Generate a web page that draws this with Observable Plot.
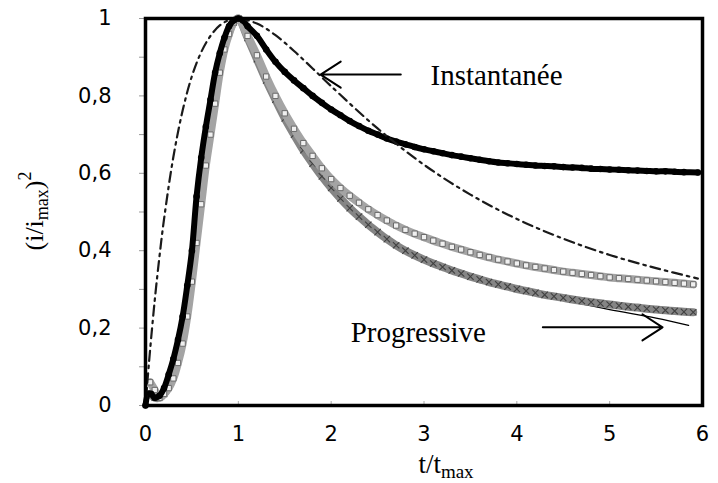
<!DOCTYPE html>
<html><head><meta charset="utf-8">
<script src="https://cdn.jsdelivr.net/npm/d3@7"></script>
<script src="https://cdn.jsdelivr.net/npm/@observablehq/plot@0.6"></script>
<style>body{margin:0;background:#fff} svg{display:block}</style>
</head><body><div id="chart"></div>
<script>
// Axis ticks
const xTicks = [0, 1, 2, 3, 4, 5, 6];
const yLabelTicks = [0, 0.2, 0.4, 0.6, 0.8, 1];
const yMinorTicks = [0, 0.1, 0.2, 0.3, 0.4, 0.5, 0.6, 0.7, 0.8, 0.9, 1];

// Experimental, instantaneous (black filled markers)
const blackT = [0, 0.03, 0.06, 0.1, 0.15, 0.2, 0.25, 0.3, 0.35, 0.4, 0.45, 0.5, 0.55, 0.6, 0.65, 0.7, 0.75, 0.8, 0.85, 0.9, 0.95, 1.0, 1.05, 1.1, 1.2, 1.3, 1.4, 1.5, 1.6, 1.7, 1.8, 1.9, 2.0, 2.1, 2.2, 2.3, 2.4, 2.5, 2.6, 2.7, 2.8, 2.9, 3.0, 3.1, 3.2, 3.3, 3.4, 3.5, 3.6, 3.7, 3.8, 3.9, 4.0, 4.1, 4.2, 4.3, 4.4, 4.5, 4.6, 4.7, 4.8, 4.9, 5.0, 5.1, 5.2, 5.3, 5.4, 5.5, 5.6, 5.7, 5.8, 5.95];
const blackV = [0, 0.03, 0.03, 0.02, 0.025, 0.045, 0.08, 0.12, 0.17, 0.23, 0.31, 0.40, 0.54, 0.64, 0.72, 0.79, 0.86, 0.91, 0.95, 0.98, 0.995, 1.0, 0.995, 0.98, 0.955, 0.92, 0.888, 0.862, 0.84, 0.82, 0.80, 0.782, 0.765, 0.75, 0.735, 0.722, 0.71, 0.70, 0.69, 0.682, 0.675, 0.668, 0.662, 0.657, 0.652, 0.647, 0.643, 0.639, 0.635, 0.631, 0.628, 0.626, 0.624, 0.622, 0.62, 0.619, 0.618, 0.616, 0.615, 0.614, 0.612, 0.611, 0.61, 0.609, 0.608, 0.607, 0.606, 0.605, 0.605, 0.604, 0.603, 0.602];

// Experimental, upper grey band (open squares)
const upperT = [0.05, 0.1, 0.15, 0.2, 0.25, 0.3, 0.35, 0.4, 0.45, 0.5, 0.55, 0.6, 0.65, 0.7, 0.75, 0.8, 0.85, 0.9, 0.95, 1.0, 1.1, 1.2, 1.3, 1.4, 1.5, 1.6, 1.7, 1.8, 1.9, 2.0, 2.1, 2.2, 2.3, 2.4, 2.5, 2.6, 2.7, 2.8, 2.9, 3.0, 3.1, 3.2, 3.3, 3.4, 3.5, 3.6, 3.7, 3.8, 3.9, 4.0, 4.1, 4.2, 4.3, 4.4, 4.5, 4.6, 4.7, 4.8, 4.9, 5.0, 5.1, 5.2, 5.3, 5.4, 5.5, 5.6, 5.7, 5.8, 5.9];
const upperV = [0.06, 0.04, 0.02, 0.03, 0.045, 0.07, 0.11, 0.16, 0.23, 0.32, 0.42, 0.52, 0.62, 0.70, 0.78, 0.86, 0.92, 0.96, 0.99, 1.0, 0.955, 0.905, 0.85, 0.80, 0.755, 0.715, 0.678, 0.645, 0.613, 0.585, 0.562, 0.542, 0.524, 0.507, 0.492, 0.478, 0.465, 0.454, 0.444, 0.435, 0.426, 0.418, 0.41, 0.403, 0.396, 0.389, 0.383, 0.377, 0.372, 0.367, 0.362, 0.358, 0.354, 0.35, 0.346, 0.343, 0.34, 0.337, 0.334, 0.331, 0.329, 0.327, 0.325, 0.323, 0.321, 0.319, 0.317, 0.315, 0.313];

// Experimental, lower grey band (crossed markers)
const lowerT = [0.05, 0.1, 0.15, 0.2, 0.25, 0.3, 0.35, 0.4, 0.45, 0.5, 0.55, 0.6, 0.65, 0.7, 0.75, 0.8, 0.85, 0.9, 0.95, 1.0, 1.1, 1.2, 1.3, 1.4, 1.5, 1.6, 1.7, 1.8, 1.9, 2.0, 2.1, 2.2, 2.3, 2.4, 2.5, 2.6, 2.7, 2.8, 2.9, 3.0, 3.1, 3.2, 3.3, 3.4, 3.5, 3.6, 3.7, 3.8, 3.9, 4.0, 4.1, 4.2, 4.3, 4.4, 4.5, 4.6, 4.7, 4.8, 4.9, 5.0, 5.1, 5.2, 5.3, 5.4, 5.5, 5.6, 5.7, 5.8, 5.9];
const lowerV = [0.03, 0.02, 0.02, 0.03, 0.05, 0.08, 0.12, 0.18, 0.25, 0.34, 0.44, 0.54, 0.64, 0.72, 0.80, 0.87, 0.93, 0.965, 0.99, 1.0, 0.95, 0.895, 0.84, 0.79, 0.742, 0.70, 0.66, 0.625, 0.592, 0.562, 0.535, 0.51, 0.488, 0.467, 0.448, 0.43, 0.414, 0.40, 0.388, 0.377, 0.367, 0.358, 0.349, 0.341, 0.333, 0.326, 0.319, 0.313, 0.307, 0.301, 0.296, 0.291, 0.286, 0.282, 0.278, 0.274, 0.27, 0.267, 0.264, 0.261, 0.258, 0.255, 0.253, 0.25, 0.248, 0.246, 0.244, 0.242, 0.241];

// Theoretical instantaneous (dash-dot)
const instT = [0, 0.02, 0.05, 0.1, 0.15, 0.2, 0.3, 0.4, 0.5, 0.6, 0.7, 0.8, 0.9, 1.0, 1.2, 1.4, 1.6, 1.8, 2.0, 2.5, 3.0, 3.5, 4.0, 4.5, 5.0, 5.5, 5.95];
const instV = [0, 0.06, 0.145, 0.273, 0.384, 0.482, 0.642, 0.762, 0.851, 0.913, 0.955, 0.982, 0.996, 1.0, 0.987, 0.957, 0.916, 0.871, 0.825, 0.716, 0.622, 0.545, 0.482, 0.431, 0.389, 0.355, 0.328];

// Theoretical progressive (thin solid, visible only past the bands at the right)
const progT = [0.1, 0.3, 0.5, 0.7, 0.9, 1.0, 1.2, 1.5, 2.0, 2.5, 3.0, 3.5, 4.0, 4.5, 5.0, 5.5, 5.85];
const progV = [0.02, 0.09, 0.36, 0.73, 0.96, 1.0, 0.895, 0.742, 0.562, 0.448, 0.377, 0.332, 0.299, 0.272, 0.248, 0.226, 0.207];

// Annotations
const annText = ["Instantanée", "Progressive"];
const annX = [3.07, 2.21];
const annY = [0.852, 0.187];
const arrowX1 = [2.75, 4.28];
const arrowX2 = [1.886, 5.57];
const arrowY = [0.855, 0.202];

const rows = (T, V) => T.map((t, i) => ({t, v: V[i]}));
const black = rows(blackT, blackV);
const upper = rows(upperT, upperV);
const lower = rows(lowerT, lowerV);
const inst = rows(instT, instV);
const prog = rows(progT, progV);
const anns = annText.map((s, i) => ({s, x: annX[i], y: annY[i]}));
const arrows = arrowX1.map((x1, i) => ({x1, x2: arrowX2[i], y: arrowY[i]}));

const plot = Plot.plot({
  width: 718, height: 483,
  marginLeft: 145, marginRight: 16, marginTop: 18, marginBottom: 78,
  x: {domain: [0, 6]},
  y: {domain: [0, 1]},
  style: {fontFamily: "DejaVu Sans", fontSize: "21px", color: "black", background: "white"},
  marks: [
    Plot.axisY({ticks: yMinorTicks, tickSize: 6, stroke: "#999", tickFormat: () => "", label: null}),
    Plot.axisY({ticks: yLabelTicks, tickSize: 0, tickPadding: 34, label: null, fontSize: 21,
      tickFormat: d => String(d).replace(".", ",")}),
    Plot.axisX({ticks: xTicks, tickSize: 0, tickPadding: 21, label: null, fontSize: 21, tickFormat: d => String(d)}),
    Plot.ruleX(xTicks.slice(1, -1), {x: d => d, insetTop: 383, stroke: "#aaa"}),
    Plot.line(prog, {x: "t", y: "v", stroke: "black", strokeWidth: 1.3, curve: "catmull-rom"}),
    Plot.line(lower, {x: "t", y: "v", stroke: "#858585", strokeWidth: 8, curve: "catmull-rom"}),
    Plot.dot(lower, {x: "t", y: "v", symbol: "times", r: 3, stroke: "#404040", strokeWidth: 1.1}),
    Plot.line(upper, {x: "t", y: "v", stroke: "#a4a4a4", strokeWidth: 8, curve: "catmull-rom"}),
    Plot.dot(upper, {x: "t", y: "v", symbol: "square", r: 3, stroke: "#6a6a6a", fill: "#f0f0f0", strokeWidth: 1}),
    Plot.line(black, {x: "t", y: "v", stroke: "black", strokeWidth: 6, curve: "catmull-rom"}),
    Plot.dot(black, {x: "t", y: "v", r: 3.3, fill: "black"}),
    Plot.line(inst, {x: "t", y: "v", stroke: "#1a1a1a", strokeWidth: 2.2, strokeDasharray: "10,5,2.5,5", curve: "catmull-rom"}),
    Plot.frame({stroke: "black", strokeWidth: 3.5}),
    Plot.arrow(arrows, {x1: "x1", x2: "x2", y1: "y", y2: "y", stroke: "black", strokeWidth: 2, headLength: 18, headAngle: 66}),
    Plot.text(anns, {x: "x", y: "y", text: "s", textAnchor: "start", fontFamily: "Liberation Serif", fontSize: 29, fill: "black"})
  ]
});
document.getElementById("chart").appendChild(plot);

const svg = d3.select(plot);
const xl = svg.append("text").attr("x", 446).attr("y", 473).attr("text-anchor", "middle")
  .attr("font-family", "Liberation Serif").attr("font-size", 27).attr("fill", "black");
xl.append("tspan").text("t/t");
xl.append("tspan").attr("font-size", 19).attr("dy", 5).text("max");

const yl = svg.append("text").attr("transform", "translate(43,211) rotate(-90)").attr("text-anchor", "middle")
  .attr("font-family", "Liberation Serif").attr("font-size", 26).attr("fill", "black");
yl.append("tspan").text("(i/i");
yl.append("tspan").attr("font-size", 18).attr("dy", 5).text("max");
yl.append("tspan").attr("dy", -5).text(")");
yl.append("tspan").attr("font-size", 18).attr("dy", -12).text("2");
</script>
</body></html>
